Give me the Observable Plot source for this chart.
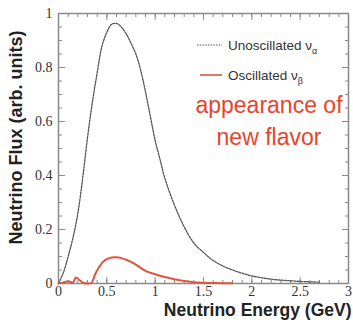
<!DOCTYPE html>
<html>
<head>
<meta charset="utf-8">
<script src="https://cdn.jsdelivr.net/npm/d3@7"></script>
<script src="https://cdn.jsdelivr.net/npm/@observablehq/plot@0.6"></script>
<style>
  html, body { margin: 0; padding: 0; background: white; }
  #chart { position: relative; width: 353px; height: 326px; }
</style>
</head>
<body>
<div id="chart"></div>
<script>
// Unoscillated flux (black dotted)
const unoscEnergy = [0, 0.05, 0.1, 0.15, 0.2, 0.25, 0.3, 0.35, 0.4, 0.45, 0.5, 0.55, 0.6, 0.65, 0.7, 0.75, 0.8, 0.85, 0.9, 0.95, 1.0, 1.05, 1.1, 1.2, 1.3, 1.4, 1.5, 1.6, 1.7, 1.8, 1.9, 2.0, 2.2, 2.4, 2.6, 2.7];
const unoscFlux   = [0, 0.04, 0.1, 0.17, 0.26, 0.39, 0.54, 0.67, 0.78, 0.88, 0.93, 0.96, 0.963, 0.95, 0.925, 0.89, 0.85, 0.79, 0.71, 0.62, 0.53, 0.46, 0.39, 0.29, 0.21, 0.15, 0.115, 0.085, 0.065, 0.05, 0.038, 0.028, 0.016, 0.01, 0.006, 0.005];
// Oscillated flux (red)
const oscEnergy = [0, 0.05, 0.1, 0.15, 0.18, 0.22, 0.26, 0.3, 0.34, 0.38, 0.42, 0.46, 0.5, 0.55, 0.6, 0.65, 0.7, 0.75, 0.8, 0.85, 0.9, 0.95, 1.0, 1.1, 1.2, 1.3, 1.4, 1.5, 1.6, 1.7, 1.8];
const oscFlux   = [0, 0.004, 0.008, 0.004, 0.022, 0.012, 0.002, 0.0, 0.002, 0.035, 0.06, 0.08, 0.09, 0.096, 0.097, 0.094, 0.088, 0.08, 0.07, 0.058, 0.047, 0.04, 0.034, 0.024, 0.016, 0.009, 0.005, 0.003, 0.002, 0.001, 0.001];

const xMajorTicks = [0, 0.5, 1, 1.5, 2, 2.5, 3];
const xTickLabels = ["0", "0.5", "1", "1.5", "2", "2.5", "3"];
const xMinorTicks = d3.range(0, 31).map(i => i / 10);
const yMajorTicks = [0, 0.2, 0.4, 0.6, 0.8, 1];
const yTickLabels = ["0", "0.2", "0.4", "0.6", "0.8", "1"];
const yMinorTicks = d3.range(0, 21).map(i => i / 20);

const xTitle = "Neutrino Energy (GeV)";
const yTitle = "Neutrino Flux (arb. units)";

const unosc = unoscEnergy.map((e, i) => ({e, f: unoscFlux[i]}));
const osc = oscEnergy.map((e, i) => ({e, f: oscFlux[i]}));

const frameColor = "#8a8a8a";
const sans = "'Liberation Sans', Arial, sans-serif";

const chart = Plot.plot({
  width: 353,
  height: 326,
  marginLeft: 58,
  marginRight: 5,
  marginTop: 13,
  marginBottom: 43,
  x: {domain: [0, 3]},
  y: {domain: [0, 1]},
  style: {fontFamily: "'Liberation Serif', 'DejaVu Serif', serif", fontSize: "14px", background: "white", color: "#444"},
  marks: [
    Plot.frame({stroke: frameColor, strokeWidth: 1.5}),
    // inward ticks, bottom & top
    Plot.axisX({ticks: xMinorTicks, tickSize: -3, text: null, stroke: frameColor, anchor: "bottom", label: null}),
    Plot.axisX({ticks: xMajorTicks, tickSize: -6, text: null, stroke: frameColor, anchor: "bottom", label: null}),
    Plot.axisX({ticks: xMinorTicks, tickSize: -3, text: null, stroke: frameColor, anchor: "top", label: null}),
    Plot.axisX({ticks: xMajorTicks, tickSize: -6, text: null, stroke: frameColor, anchor: "top", label: null}),
    Plot.axisX({ticks: xMajorTicks, tickSize: 0, tickPadding: 3, tickFormat: (d, i) => xTickLabels[i], anchor: "bottom", label: null, fill: "#333"}),
    // inward ticks, left & right
    Plot.axisY({ticks: yMinorTicks, tickSize: -4, text: null, stroke: frameColor, anchor: "left", label: null}),
    Plot.axisY({ticks: yMajorTicks, tickSize: -7, text: null, stroke: frameColor, anchor: "left", label: null}),
    Plot.axisY({ticks: yMinorTicks, tickSize: -4, text: null, stroke: frameColor, anchor: "right", label: null}),
    Plot.axisY({ticks: yMajorTicks, tickSize: -7, text: null, stroke: frameColor, anchor: "right", label: null}),
    Plot.axisY({ticks: yMajorTicks, tickSize: 0, tickPadding: 6, tickFormat: (d, i) => yTickLabels[i], anchor: "left", label: null, fill: "#333"}),
    // curves
    Plot.line(unosc, {x: "e", y: "f", stroke: "#555", strokeWidth: 1.3, strokeDasharray: "2,1.3", curve: "catmull-rom"}),
    Plot.line(osc, {x: "e", y: "f", stroke: "#e0553f", strokeWidth: 2, curve: "catmull-rom"}),
    // axis titles
    Plot.text([xTitle], {text: d => d, frameAnchor: "bottom-right", textAnchor: "end", lineAnchor: "top", dx: 3, dy: 20, fontFamily: sans, fontWeight: "bold", fontSize: 17.5, fill: "#222"}),
    Plot.text([yTitle], {text: d => d, frameAnchor: "left", rotate: -90, textAnchor: "middle", lineAnchor: "middle", dx: -42, dy: -11, fontFamily: sans, fontWeight: "bold", fontSize: 18, fill: "#222"})
  ]
});

document.getElementById("chart").appendChild(chart);

// Legend and annotation drawn inside the plot frame
const svg = d3.select(chart);
const g = svg.append("g").attr("font-family", sans).attr("text-anchor", "start");

function legendEntry(y, main, sub, drawSample) {
  drawSample(g.append("line").attr("x1", 197).attr("x2", 222).attr("y1", y).attr("y2", y));
  const t = g.append("text").attr("x", 228).attr("y", y).attr("dy", "0.35em")
    .attr("text-anchor", "start").attr("font-size", 13.5).attr("fill", "#333");
  t.append("tspan").text(main);
  t.append("tspan").attr("font-size", 9).attr("dy", 4).text(sub);
}
legendEntry(45, "Unoscillated ν", "α", l => l.attr("stroke", "#555").attr("stroke-width", 1).attr("stroke-dasharray", "1.5,1.2"));
legendEntry(75, "Oscillated ν", "β", l => l.attr("x1", 200).attr("stroke", "#e0553f").attr("stroke-width", 1.6));

g.append("text").attr("x", 269).attr("y", 113).attr("text-anchor", "middle")
  .attr("font-size", 23).attr("fill", "#e8442c").text("appearance of");
g.append("text").attr("x", 269).attr("y", 145).attr("text-anchor", "middle")
  .attr("font-size", 23).attr("fill", "#e8442c").text("new flavor");
</script>
</body>
</html>
